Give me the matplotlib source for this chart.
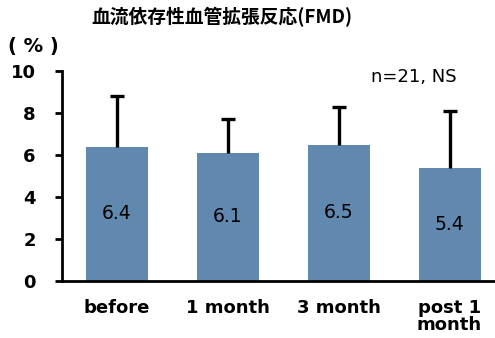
import matplotlib
matplotlib.use("Agg")
import matplotlib.pyplot as plt

# data
labels = ["before", "1 month", "3 month", "post 1\nmonth"]
values = [6.4, 6.1, 6.5, 5.4]
errors = [2.4, 1.6, 1.8, 2.7]
yticks = [0, 2, 4, 6, 8, 10]

plt.rcParams['font.family'] = ['DejaVu Sans']
jp = ['Noto Sans CJK JP', 'DejaVu Sans']

fig = plt.figure(figsize=(4.95, 3.38), dpi=100)
ax = fig.add_axes([0.1253, 0.1686, 0.8747, 0.621])

x = list(range(len(values)))
tops = [v + e for v, e in zip(values, errors)]
ax.bar(x, values, width=0.56, color="#6189b0", zorder=2)
# upper error bars only
ax.vlines(x, values, tops, color="black", linewidth=2.4, zorder=3)
ax.plot(x, tops, linestyle="none", marker="_", markersize=10,
        markeredgewidth=2.4, color="black", zorder=3)

# value labels in the middle of each bar
for i, v in enumerate(values):
    ax.text(i, v / 2, f"{v}", ha="center", va="center", fontsize=13.5)

ax.set_xlim(-0.496, 3.41)
ax.set_ylim(0, 10)
ax.set_yticks(yticks)
ax.set_xticks(x)
ax.set_xticklabels(labels, fontsize=13, fontweight="bold", linespacing=0.9)
for t in ax.get_yticklabels():
    t.set_fontsize(13)
    t.set_fontweight("bold")

ax.spines["top"].set_visible(False)
ax.spines["right"].set_visible(False)
ax.spines["left"].set_linewidth(2)
ax.spines["bottom"].set_linewidth(2)
ax.tick_params(axis="y", length=5, width=2, pad=14)
ax.tick_params(axis="x", length=0, pad=13)

fig.text(0.448, 0.95, "血流依存性血管拡張反応(FMD)", ha="center", va="center",
         fontsize=13.5, fontweight="bold", family=jp)
fig.text(0.016, 0.861, "( % )", ha="left", va="center", fontsize=14,
         fontweight="bold")
ax.text(0.813, 0.971, "n=21, NS", transform=ax.transAxes, ha="center",
        va="center", fontsize=13)

fig.savefig("out.png", dpi=100)
